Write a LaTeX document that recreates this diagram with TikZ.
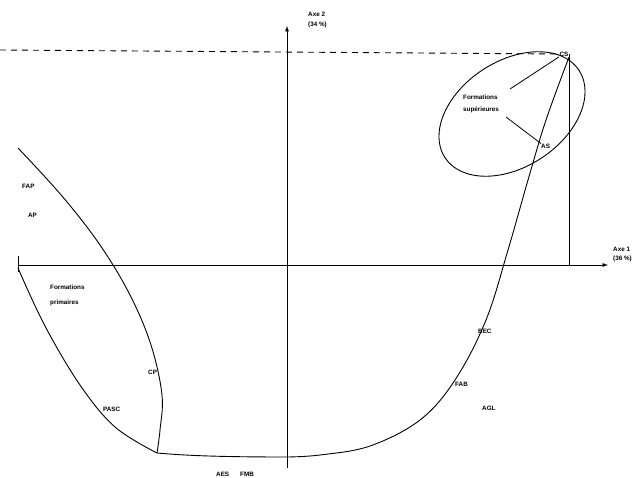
\documentclass[tikz,border=0pt]{standalone}
\usepackage{fontspec}
\setmainfont{Liberation Sans}
\begin{document}
\begin{tikzpicture}[x=1pt,y=-1pt,
  lbl/.style={font=\fontsize{6.3}{7}\selectfont\bfseries, inner sep=0pt, anchor=west},
  curve/.style={line width=0.9pt, black},
  axis/.style={line width=0.9pt, -latex}]
\useasboundingbox (0,0) rectangle (639,478);
% axes
\coordinate (xs) at (18,265);
\coordinate (xe) at (608,265);
\coordinate (ys) at (287,468);
\coordinate (ye) at (287,26);
\draw[axis] (xs) -- (xe);
\draw[line width=0.9pt] (18,256) -- (18,272);
\draw[axis] (ys) -- (ye);
\node[lbl] (a2a) at (308,14) {Axe 2};
\node[lbl] (a2b) at (308,25) {(34 \%)};
\node[lbl] (a1a) at (613,249) {Axe 1};
\node[lbl] (a1b) at (613,259) {(36 \%)};
% CS point
\node[font=\fontsize{6.3}{7}\selectfont\bfseries, inner sep=0.5pt] (cs) at (564,54) {CS};
\draw[dashed, line width=0.9pt, dash pattern=on 6pt off 5pt] (0,50) -- (cs.west);
\coordinate (csx) at (570,265);
\draw[line width=0.8pt] (cs.east) -- (cs.east |- csx);
% ellipse
\draw[curve] (512,114) ellipse[x radius=80, y radius=53, rotate=33];
\node[lbl] (fs1) at (463,97) {Formations};
\node[lbl] (fs2) at (463,110) {supérieures};
\node[lbl] (as) at (541,146) {AS};
\coordinate (l1) at (510,89);
\coordinate (l2) at (506,117);
\draw[line width=0.8pt] (l1) -- (cs.south west);
\draw[line width=0.8pt] (l2) -- (as.north west);
% main U curve
\draw[curve] plot[smooth, tension=0.6] coordinates {(cs.south east) (546,120) (528,180) (508,250) (486,320) (455,380) (420,420) (370,446) (320,455) (287,457)};
\draw[curve] (287,457) .. controls (230,457) and (190,456) .. (157,453);
% left lens
\draw[curve] plot[smooth, tension=0.6] coordinates {(18,148) (62,196) (100,245) (130,295) (151,345) (162,395) (160,430) (157,453)};
\draw[curve] plot[smooth, tension=0.6] coordinates {(18,268) (45,326) (80,385) (115,427) (157,453)};
% labels
\node[lbl] (fap) at (22,186) {FAP};
\node[lbl] (ap) at (28,215) {AP};
\node[lbl] (fp1) at (50,287) {Formations};
\node[lbl] (fp2) at (50,303) {primaires};
\node[lbl] (cp) at (148,372) {CP};
\node[lbl] (pasc) at (103,409) {PASC};
\node[lbl] (aes) at (216,474) {AES};
\node[lbl] (fmb) at (240,474) {FMB};
\node[lbl] (bec) at (478,331) {BEC};
\node[lbl] (fab) at (455,384) {FAB};
\node[lbl] (agl) at (482,408) {AGL};
\end{tikzpicture}
\end{document}
